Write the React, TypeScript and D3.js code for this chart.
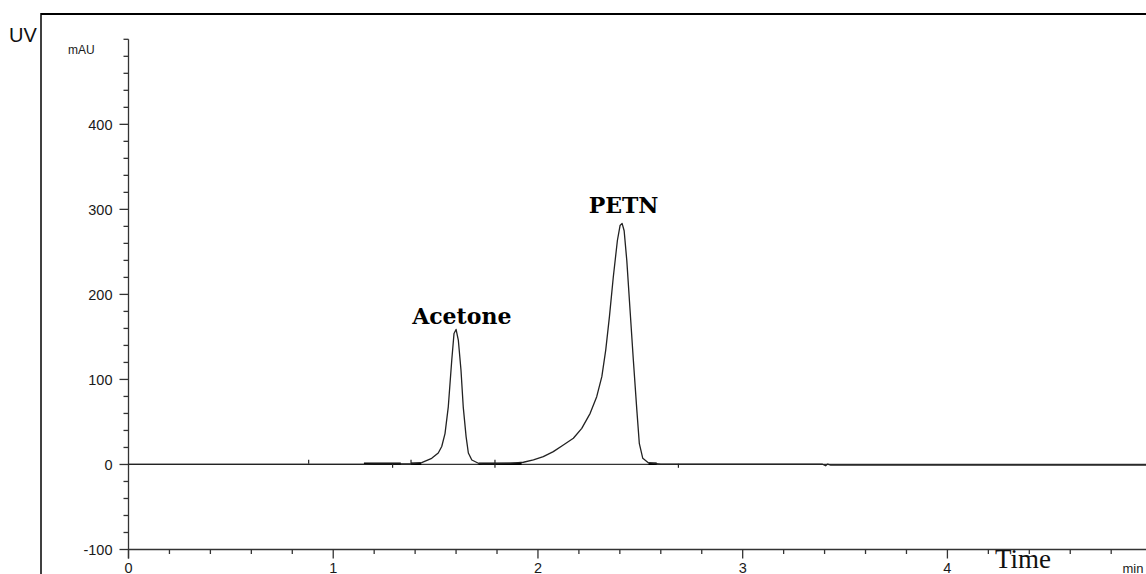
import React from "react";
import * as d3 from "d3";

// Chromatogram trace (time in min, absorbance in mAU)
const traceTime = [0, 0.88, 1.15, 1.2, 1.38, 1.432, 1.481, 1.513, 1.53, 1.546, 1.562, 1.579, 1.59, 1.6, 1.611, 1.624, 1.635, 1.649, 1.66, 1.677, 1.709, 1.733, 1.864, 1.929, 1.978, 2.026, 2.075, 2.124, 2.173, 2.214, 2.255, 2.287, 2.312, 2.331, 2.349, 2.368, 2.388, 2.401, 2.411, 2.421, 2.434, 2.45, 2.466, 2.483, 2.495, 2.512, 2.539, 2.564, 2.6, 3.39, 3.405, 3.415, 3.43, 4.97];
const traceValue = [0, 0, 0, 0.8, 0.8, 2.1, 7.2, 13.5, 21.1, 36.3, 67.8, 122.8, 154.1, 158.8, 146.3, 111.1, 67.8, 32.8, 13.5, 5.3, 1.4, 0.8, 1.2, 2.6, 5.3, 9.2, 15.1, 22.9, 30.8, 42.5, 60.1, 79.7, 103.2, 134.5, 173.5, 220.4, 263.4, 281.0, 283.5, 274.9, 239.7, 181.1, 122.5, 63.9, 24.9, 7.2, 2.1, 1.4, 0.5, 0.3, -1.5, 0.5, -0.8, -0.8];

// integration baselines (start, end in min)
const baselineStart = [1.15, 1.38, 1.71, 2.54];
const baselineEnd = [1.33, 1.43, 1.92, 2.58];
// integration event marks (time, direction)
const markTime = [0.88, 1.29, 1.38, 1.79, 2.686];
const markDir = ["up", "down", "up", "cross", "down"];

const peakNames = ["Acetone", "PETN"];
const peakLabelTime = [1.628, 2.418];
const peakLabelValue = [165, 296];

const xTicksMajor = [0, 1, 2, 3, 4];
const yTicksMajor = [-100, 0, 100, 200, 300, 400];

export default function App() {
  const W = 1146, H = 574;
  const x = d3.scaleLinear().domain([0, 4.97]).range([128.5, 1146]);
  const y = d3.scaleLinear().domain([-100, 500]).range([549.5, 39.3]);

  const pts = traceTime.map((t, i) => [t, traceValue[i]] as [number, number]);
  const line = d3.line<[number, number]>().x(d => x(d[0])).y(d => y(d[1]));

  const xMinor = d3.range(0, 4.97, 0.2).filter(v => Math.abs(v - Math.round(v)) > 0.01);
  const yMinor = d3.range(-100, 501, 20).filter(v => v % 100 !== 0);

  const axisColor = "#333";
  const tickFont = "'Liberation Sans', Arial, sans-serif";
  const x0 = x(0), yAxisBottom = y(-100);

  return (
    <svg width={W} height={H} style={{ position: "absolute", left: 0, top: 0, background: "#fff" }}>
      {/* frame */}
      <line x1={41} y1={14} x2={W} y2={14} stroke="#000" strokeWidth={2} />
      <line x1={41} y1={13} x2={41} y2={H} stroke="#000" strokeWidth={1.5} />
      <text x={9} y={42} fontFamily={tickFont} fontSize={20} fill="#111">UV</text>

      {/* y axis */}
      <line x1={x0} y1={y(500)} x2={x0} y2={yAxisBottom + 9} stroke={axisColor} strokeWidth={1.3} />
      <line x1={x0 - 5} y1={y(500)} x2={x0} y2={y(500)} stroke={axisColor} strokeWidth={1.3} />
      {yTicksMajor.map(v => (
        <g key={"ym" + v}>
          <line x1={x0 - 9} x2={x0} y1={y(v)} y2={y(v)} stroke={axisColor} strokeWidth={1.3} />
          <text x={112.5} y={y(v)} dy="0.36em" textAnchor="end" fontFamily={tickFont} fontSize={14.5} fill="#1a1a1a">{v}</text>
        </g>
      ))}
      {yMinor.map(v => (
        <line key={"yn" + v} x1={x0 - 5} x2={x0} y1={y(v)} y2={y(v)} stroke={axisColor} strokeWidth={1.3} />
      ))}
      <text x={68} y={54} fontFamily={tickFont} fontSize={12} fill="#1a1a1a">mAU</text>

      {/* x axis */}
      <line x1={x0} y1={yAxisBottom} x2={W} y2={yAxisBottom} stroke={axisColor} strokeWidth={1.3} />
      {xTicksMajor.map(v => (
        <g key={"xm" + v}>
          <line x1={x(v)} x2={x(v)} y1={yAxisBottom} y2={yAxisBottom + 9} stroke={axisColor} strokeWidth={1.3} />
          <text x={x(v)} y={572.5} textAnchor="middle" fontFamily={tickFont} fontSize={14.5} fill="#1a1a1a">{v}</text>
        </g>
      ))}
      {xMinor.map(v => (
        <line key={"xn" + v} x1={x(v)} x2={x(v)} y1={yAxisBottom} y2={yAxisBottom + 4.5} stroke={axisColor} strokeWidth={1.3} />
      ))}
      <text x={1122.5} y={572.5} fontFamily={tickFont} fontSize={13} fill="#1a1a1a">min</text>
      <text x={995} y={568} fontFamily="'Liberation Serif', 'Times New Roman', serif" fontSize={27} fill="#111">Time</text>

      {/* zero line */}
      <line x1={x0} y1={y(0)} x2={W} y2={y(0)} stroke={axisColor} strokeWidth={1.2} />

      {/* integration baselines */}
      {baselineStart.map((s, i) => (
        <line key={"bl" + i} x1={x(s)} x2={x(baselineEnd[i])} y1={y(0.9)} y2={y(0.9)} stroke="#000" strokeWidth={2.6} />
      ))}
      {markTime.map((t, i) => {
        const d = markDir[i];
        const cy = y(0.8);
        const y1 = d === "down" ? cy : cy - 4;
        const y2 = d === "up" ? cy : cy + 4;
        return <line key={"mk" + i} x1={x(t)} x2={x(t)} y1={y1} y2={y2} stroke="#222" strokeWidth={1.2} />;
      })}

      {/* signal */}
      <path d={line(pts) || ""} fill="none" stroke="#222" strokeWidth={1.3} strokeLinejoin="round" />

      {/* peak labels */}
      {peakNames.map((n, i) => (
        <text key={n} x={x(peakLabelTime[i])} y={y(peakLabelValue[i])} textAnchor="middle"
          fontFamily="'DejaVu Serif', serif" fontWeight="bold" fontSize={22} fill="#000">{n}</text>
      ))}
    </svg>
  );
}
